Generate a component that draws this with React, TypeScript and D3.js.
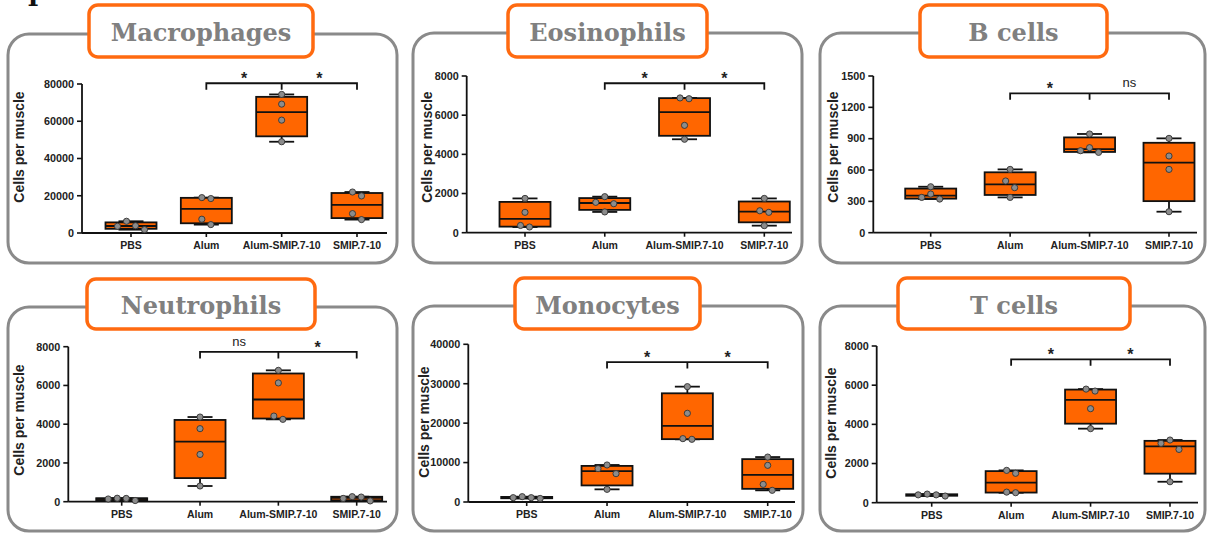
import React from "react";
import * as d3 from "d3";

// Groups on the x axis (identical for every panel)
const categories = ["PBS", "Alum", "Alum-SMIP.7-10", "SMIP.7-10"];

// Cells per muscle, four animals per group, in category order
const macrophages = [
  [6300, 3900, 3600, 1800],
  [19000, 18500, 7400, 4500],
  [74400, 69200, 60600, 49000],
  [22000, 19900, 10400, 7200],
];
const eosinophils = [
  [1750, 1040, 370, 290],
  [1840, 1550, 1480, 1060],
  [6880, 6840, 5480, 4770],
  [1750, 1120, 1040, 360],
];
const bCells = [
  [440, 370, 338, 322],
  [606, 495, 431, 338],
  [945, 814, 785, 769],
  [903, 734, 606, 201],
];
const neutrophils = [
  [180, 170, 140, 60],
  [4370, 3770, 2440, 810],
  [6780, 6130, 4420, 4250],
  [260, 240, 170, 40],
];
const monocytes = [
  [1350, 1100, 1100, 900],
  [9390, 8460, 7190, 3210],
  [29260, 22500, 16070, 15900],
  [11400, 9300, 4480, 2960],
];
const tCells = [
  [440, 400, 400, 340],
  [1650, 1500, 540, 510],
  [5800, 5700, 4800, 3780],
  [3200, 3030, 2720, 1070],
];

const titles = ["Macrophages", "Eosinophils", "B cells", "Neutrophils", "Monocytes", "T cells"];
const yMaxima = [80000, 8000, 1500, 8000, 40000, 8000];
const yTickSteps = [20000, 2000, 300, 2000, 10000, 2000];
// Comparisons Alum vs Alum-SMIP.7-10 and Alum-SMIP.7-10 vs SMIP.7-10
const significance = [
  ["*", "*"],
  ["*", "*"],
  ["*", "ns"],
  ["ns", "*"],
  ["*", "*"],
  ["*", "*"],
];
// Height of the comparison bracket, in data units
const bracketLevels = [80400, 7630, 1334, 7730, 35500, 7320];

const datasets = [macrophages, eosinophils, bCells, neutrophils, monocytes, tCells];

// Panel geometry (pixels): frame, title tag and plot area
type Frame = {
  box: [number, number, number, number];
  tag: [number, number, number, number];
  axisX: number;
  y0: number;
  yTop: number;
  first: number;
  last: number;
  axisEnd: number;
  labelX: number;
  labelY: number;
};
const frames: Frame[] = [
  { box: [8, 34, 397, 263], tag: [89, 5, 313, 57], axisX: 82, y0: 233, yTop: 84, first: 131, last: 357, axisEnd: 387, labelX: 19, labelY: 147 },
  { box: [413, 33, 802, 263], tag: [508, 5, 707, 57], axisX: 466.7, y0: 232.7, yTop: 76, first: 525, last: 764.3, axisEnd: 792, labelX: 427, labelY: 147 },
  { box: [820, 33, 1205, 263], tag: [920, 5, 1107, 57], axisX: 873.3, y0: 232.7, yTop: 76, first: 930.7, last: 1169, axisEnd: 1197, labelX: 833, labelY: 147 },
  { box: [8, 307, 397, 531], tag: [87, 279, 315, 329], axisX: 68.3, y0: 501.7, yTop: 346.7, first: 121.7, last: 356.7, axisEnd: 387, labelX: 19, labelY: 420 },
  { box: [413, 306, 803, 531], tag: [515, 278, 700, 329], axisX: 468.3, y0: 502, yTop: 344.3, first: 526.7, last: 767.7, axisEnd: 795, labelX: 424, labelY: 422 },
  { box: [820, 306, 1205, 531], tag: [898, 278, 1130, 329], axisX: 876.7, y0: 502.7, yTop: 346, first: 931.7, last: 1170, axisEnd: 1198, labelX: 831, labelY: 423 },
];

const ORANGE = "#FF6600";
const INK = "#111";
const SANS = "'Liberation Sans', Arial, sans-serif";
const SERIF = "'DejaVu Serif', serif";

const BOX_W = 51;
const CAP_W = 25;
const DOT_R = 3.1;
const DOT_GAP = 9;
const LINE_W = 1.8;

// Percentile with the (n + 1)p rule
function percentile(sorted: number[], p: number): number {
  const n = sorted.length;
  const h = (n + 1) * p;
  const lo = Math.floor(h);
  if (lo < 1) return sorted[0];
  if (lo >= n) return sorted[n - 1];
  return sorted[lo - 1] + (h - lo) * (sorted[lo] - sorted[lo - 1]);
}

// Spread points that would overlap into symmetric rows
function swarmOffsets(pixelYs: number[]): number[] {
  const order = pixelYs.map((y, i) => ({ y, i })).sort((a, b) => a.y - b.y);
  const offsets = new Array(pixelYs.length).fill(0);
  const clusters: { y: number; i: number }[][] = [];
  order.forEach((p) => {
    const last = clusters[clusters.length - 1];
    if (last && p.y - last[last.length - 1].y < 7) last.push(p);
    else clusters.push([p]);
  });
  clusters.forEach((c) => {
    const k = c.length;
    const slots: number[] = [];
    if (k % 2 === 1) {
      slots.push(0);
      for (let j = 1; slots.length < k; j++) slots.push(-j, j);
    } else {
      for (let j = 0; slots.length < k; j++) slots.push(-(j + 0.5), j + 0.5);
    }
    c.forEach((p, j) => (offsets[p.i] = slots[j] * DOT_GAP));
  });
  return offsets;
}

function Panel({ idx }: { idx: number }) {
  const f = frames[idx];
  const data = datasets[idx];
  const yMax = yMaxima[idx];
  const y = d3.scaleLinear().domain([0, yMax]).range([f.y0, f.yTop]);
  const x = d3.scalePoint<string>().domain(categories).range([f.first, f.last]);
  const ticks = d3.range(0, yMax + 1e-9, yTickSteps[idx]);
  const [bx1, by1, bx2, by2] = f.box;
  const [tx1, ty1, tx2, ty2] = f.tag;
  const bY = y(bracketLevels[idx]);
  const xa = x(categories[1])!;
  const xb = x(categories[2])!;
  const xc = x(categories[3])!;
  const marks = significance[idx];

  return (
    <g>
      <rect x={bx1} y={by1} width={bx2 - bx1} height={by2 - by1} rx={21} ry={21} fill="#fff" stroke="#8a8a8a" strokeWidth={3} />
      <rect x={tx1} y={ty1} width={tx2 - tx1} height={ty2 - ty1} rx={9} ry={9} fill="#fff" stroke="#FF6A10" strokeWidth={3.5} />
      <text x={(tx1 + tx2) / 2} y={(ty1 + ty2) / 2 + 10} textAnchor="middle" fontFamily={SERIF} fontWeight="bold" fontSize={24} fill="#808080">
        {titles[idx]}
      </text>

      {/* y axis */}
      <line x1={f.axisX} x2={f.axisX} y1={f.y0} y2={f.yTop} stroke={INK} strokeWidth={LINE_W} />
      {ticks.map((t) => (
        <g key={t}>
          <line x1={f.axisX - 5} x2={f.axisX} y1={y(t)} y2={y(t)} stroke={INK} strokeWidth={1.6} />
          <text x={f.axisX - 8} y={y(t) + 3.8} textAnchor="end" fontFamily={SANS} fontWeight="bold" fontSize={10.8} fill="#222">
            {t}
          </text>
        </g>
      ))}
      <text
        transform={`translate(${f.labelX},${f.labelY}) rotate(-90)`}
        textAnchor="middle"
        dominantBaseline="central"
        fontFamily={SANS}
        fontWeight="bold"
        fontSize={14}
        fill="#222"
      >
        Cells per muscle
      </text>

      {/* x axis */}
      <line x1={f.axisX} x2={f.axisEnd} y1={f.y0} y2={f.y0} stroke={INK} strokeWidth={LINE_W} />
      {categories.map((c) => (
        <g key={c}>
          <line x1={x(c)!} x2={x(c)!} y1={f.y0} y2={f.y0 + 4} stroke={INK} strokeWidth={1.6} />
          <text x={x(c)!} y={f.y0 + 16} textAnchor="middle" fontFamily={SANS} fontWeight="bold" fontSize={10.5} fill="#222">
            {c}
          </text>
        </g>
      ))}

      {/* boxes, whiskers and animals */}
      {data.map((vals, gi) => {
        const cx = x(categories[gi])!;
        const s = [...vals].sort((a, b) => a - b);
        const q1 = percentile(s, 0.25);
        const med = percentile(s, 0.5);
        const q3 = percentile(s, 0.75);
        const lo = s[0];
        const hi = s[s.length - 1];
        const pys = vals.map((v) => y(v));
        const offs = swarmOffsets(pys);
        return (
          <g key={gi}>
            <line x1={cx} x2={cx} y1={y(hi)} y2={y(q3)} stroke={INK} strokeWidth={LINE_W} />
            <line x1={cx} x2={cx} y1={y(q1)} y2={y(lo)} stroke={INK} strokeWidth={LINE_W} />
            <line x1={cx - CAP_W / 2} x2={cx + CAP_W / 2} y1={y(hi)} y2={y(hi)} stroke={INK} strokeWidth={LINE_W} />
            <line x1={cx - CAP_W / 2} x2={cx + CAP_W / 2} y1={y(lo)} y2={y(lo)} stroke={INK} strokeWidth={LINE_W} />
            <rect x={cx - BOX_W / 2} y={y(q3)} width={BOX_W} height={Math.max(0.5, y(q1) - y(q3))} fill={ORANGE} stroke={INK} strokeWidth={LINE_W} />
            <line x1={cx - BOX_W / 2} x2={cx + BOX_W / 2} y1={y(med)} y2={y(med)} stroke={INK} strokeWidth={LINE_W} />
            {vals.map((v, k) => (
              <circle key={k} cx={cx + offs[k]} cy={pys[k]} r={DOT_R} fill="#8c8c8c" stroke="#333" strokeWidth={0.9} />
            ))}
          </g>
        );
      })}

      {/* comparison bracket */}
      <path
        d={`M${xa},${bY + 6.5}V${bY}H${xc}V${bY + 6.5}M${xb},${bY}V${bY + 6.5}`}
        fill="none"
        stroke={INK}
        strokeWidth={LINE_W}
      />
      {[0, 1].map((k) => {
        const mx = k === 0 ? (xa + xb) / 2 : (xb + xc) / 2;
        return marks[k] === "ns" ? (
          <text key={k} x={mx} y={bY - 6} textAnchor="middle" fontFamily={SANS} fontSize={13} fill="#222">
            ns
          </text>
        ) : (
          <text key={k} x={mx} y={bY + 1} textAnchor="middle" fontFamily={SANS} fontWeight="bold" fontSize={16} fill="#222">
            *
          </text>
        );
      })}
    </g>
  );
}

export default function App() {
  return (
    <svg
      width={1210}
      height={536}
      viewBox="0 0 1210 536"
      style={{ position: "absolute", left: 0, top: 0, background: "#fff" }}
    >
      <rect width={1210} height={536} fill="#fff" />
      <text x={33} y={5.5} textAnchor="middle" fontFamily={SERIF} fontWeight="bold" fontSize={24} fill="#111">
        I
      </text>
      {frames.map((_, i) => (
        <Panel key={i} idx={i} />
      ))}
    </svg>
  );
}
